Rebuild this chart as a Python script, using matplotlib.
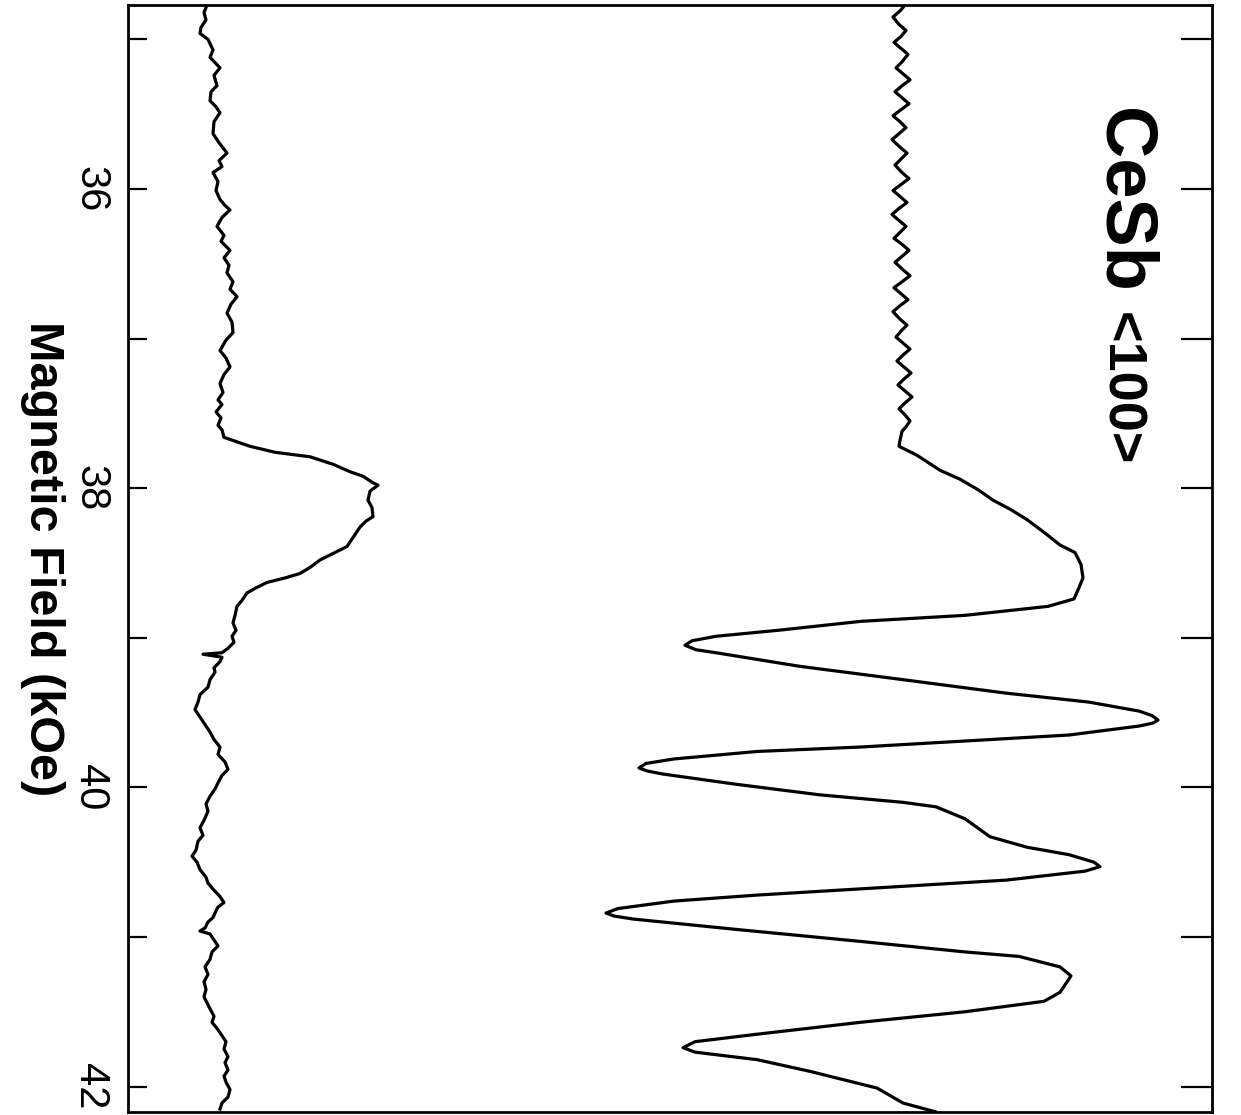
import matplotlib
matplotlib.use("Agg")
import matplotlib.pyplot as plt

# ---------------- data ----------------
# Lower trace (left, noisy baseline with a bump near 38 kOe)
left_field = [34.77, 34.82, 34.87, 34.92, 34.96, 35.00, 35.07, 35.12, 35.19, 35.24,
              35.31, 35.35, 35.41, 35.45, 35.49, 35.55, 35.63, 35.69, 35.76, 35.81,
              35.85, 35.89, 35.95, 36.01, 36.07, 36.11, 36.14, 36.19, 36.25, 36.31,
              36.35, 36.41, 36.46, 36.51, 36.56, 36.62, 36.67, 36.72, 36.77, 36.83,
              36.89, 36.96, 37.01, 37.08, 37.13, 37.19, 37.24, 37.30, 37.36, 37.41,
              37.44, 37.49, 37.53, 37.58, 37.61, 37.66,
              37.72, 37.76, 37.79, 37.84, 37.89, 37.92, 37.96, 37.98, 38.02, 38.08,
              38.13, 38.19, 38.22, 38.26, 38.31, 38.39, 38.43, 38.48, 38.53, 38.57,
              38.60, 38.63, 38.67, 38.70, 38.75, 38.79, 38.85, 38.90, 38.95, 38.99,
              39.03, 39.07, 39.10, 39.11, 39.13, 39.16, 39.20, 39.23, 39.28, 39.33,
              39.38, 39.43, 39.48, 39.53, 39.58, 39.63, 39.68, 39.73, 39.78, 39.83,
              39.88, 39.92, 39.97, 40.01, 40.06, 40.11, 40.16, 40.22, 40.27, 40.32,
              40.36, 40.42, 40.46, 40.50, 40.55, 40.60, 40.64, 40.68, 40.73, 40.77,
              40.80, 40.84, 40.87, 40.90, 40.94, 40.96, 40.98, 41.02, 41.06, 41.10,
              41.15, 41.20, 41.25, 41.30, 41.35, 41.40, 41.44, 41.48, 41.53, 41.57,
              41.62, 41.66, 41.70, 41.75, 41.80, 41.84, 41.89, 41.93, 41.97, 42.02,
              42.07, 42.11, 42.15]
left_signal = [7.9, 7.6, 7.8, 7.3, 7.2, 8.0, 8.5, 8.2, 9.2, 8.6,
               8.9, 8.3, 8.2, 8.8, 9.2, 8.6, 8.5, 9.1, 9.9, 9.1,
               9.4, 8.5, 9.0, 8.8, 9.2, 9.7, 10.2, 9.4, 8.9, 9.6,
               9.3, 10.2, 9.6, 10.1, 9.9, 10.5, 10.2, 10.9, 10.3, 9.9,
               10.4, 10.5, 9.8, 9.2, 9.8, 10.2, 9.6, 9.2, 9.5, 9.0,
               9.4, 8.8, 9.3, 9.0, 9.4, 9.6,
               12.2, 14.7, 18.2, 20.5, 22.2, 23.5, 24.4, 25.0, 24.2, 24.0,
               24.4, 24.5, 23.8, 23.2, 22.7, 21.9, 20.7, 19.2, 18.2, 17.2,
               15.7, 13.9, 12.7, 11.9, 11.4, 10.9, 10.7, 10.5, 10.8, 10.4,
               10.6, 10.0, 9.4, 7.5, 9.4, 9.2, 8.6, 8.7, 8.2, 8.0,
               7.2, 7.0, 6.7, 7.2, 7.7, 8.2, 8.6, 9.2, 9.0, 9.7,
               10.0, 9.4, 9.0, 8.7, 8.2, 7.8, 8.0, 7.6, 7.2, 7.5,
               7.0, 6.8, 6.4, 6.9, 7.2, 7.8, 8.0, 8.5, 9.2, 9.6,
               9.0, 8.7, 8.5, 8.0, 7.7, 7.2, 8.2, 8.6, 9.0, 8.4,
               8.2, 7.7, 8.0, 7.6, 7.8, 7.6, 7.9, 8.2, 8.6, 8.4,
               9.0, 9.4, 9.8, 9.6, 10.0, 9.7, 10.0, 9.6, 9.8, 10.2,
               10.0, 9.4, 9.2]

# Upper trace (right, CeSb <100> oscillations)
right_field = [34.77, 34.81, 34.85, 34.90, 34.94, 34.98, 35.02, 35.06, 35.10, 35.15,
               35.19, 35.23, 35.27, 35.31, 35.35, 35.39, 35.43, 35.47, 35.51, 35.55,
               35.59, 35.63, 35.67, 35.72, 35.76, 35.80, 35.84, 35.89, 35.93, 35.97,
               36.01, 36.05, 36.09, 36.13, 36.17, 36.21, 36.25, 36.29, 36.33, 36.37,
               36.41, 36.45, 36.49, 36.54, 36.58, 36.62, 36.66, 36.70, 36.74, 36.78,
               36.82, 36.87, 36.91, 36.95, 36.99, 37.03, 37.07, 37.11, 37.15, 37.19,
               37.23, 37.27, 37.31, 37.35, 37.39, 37.43, 37.47, 37.51, 37.55, 37.59,
               37.62, 37.65, 37.68,
               37.72, 37.78, 37.88, 37.94, 38.01, 38.08, 38.14, 38.21, 38.30, 38.38,
               38.43, 38.51, 38.60, 38.68, 38.74, 38.79, 38.85, 38.89, 38.95, 38.99,
               39.02, 39.05, 39.08, 39.10, 39.19, 39.28, 39.37, 39.43, 39.49, 39.52,
               39.55, 39.57, 39.59, 39.65, 39.69, 39.73, 39.76, 39.81, 39.84, 39.87,
               39.89, 39.91, 39.98, 40.05, 40.10, 40.13, 40.21, 40.33, 40.40, 40.45,
               40.50, 40.53, 40.56, 40.62, 40.67, 40.72, 40.76, 40.81, 40.84, 40.86,
               40.88, 40.95, 41.03, 41.10, 41.13, 41.20, 41.26, 41.37, 41.43, 41.50,
               41.57, 41.65, 41.70, 41.74, 41.77, 41.82, 41.90, 42.01, 42.11, 42.17]
right_signal = [77.7, 77.2, 76.5, 77.1, 77.8, 77.3, 76.6, 77.3, 78.0, 77.4,
                76.8, 77.5, 78.2, 77.4, 76.7, 77.4, 78.1, 77.3, 76.5, 77.2,
                77.8, 77.1, 76.4, 77.2, 77.9, 77.3, 76.7, 77.4, 78.1, 77.3,
                76.5, 77.2, 77.9, 77.1, 76.4, 77.1, 77.8, 77.2, 76.6, 77.4,
                78.1, 77.4, 76.7, 77.5, 78.2, 77.4, 76.6, 77.3, 78.0, 77.2,
                76.5, 77.2, 77.9, 77.3, 76.8, 77.5, 78.2, 77.5, 76.9, 77.6,
                78.3, 77.6, 77.0, 77.7, 78.4, 77.7, 77.1, 77.7, 78.2, 77.8,
                77.4, 77.3, 77.2,
                77.1, 78.9, 81.2, 83.2, 85.0, 86.5, 88.2, 89.9, 91.7, 93.2,
                94.7, 95.3, 95.5, 95.0, 94.6, 92.0, 83.7, 73.3, 65.0, 58.8,
                56.4, 55.7, 56.8, 58.8, 67.1, 77.5, 87.8, 96.1, 101.1, 102.4,
                103.0, 102.5, 101.1, 94.1, 83.7, 73.3, 62.9, 54.6, 51.8, 51.1,
                51.9, 53.4, 60.9, 69.2, 77.5, 80.8, 83.7, 86.2, 89.9, 94.1,
                96.6, 97.2, 95.7, 87.8, 75.4, 62.9, 54.6, 49.0, 47.8, 48.6,
                50.5, 60.9, 73.3, 83.7, 89.1, 93.2, 94.3, 93.2, 91.6, 83.7,
                73.3, 62.9, 56.7, 55.5, 56.7, 62.9, 68.3, 74.9, 77.5, 80.8]

field_ticks = [35, 36, 37, 38, 39, 40, 41, 42]
field_ticklabels = ["", "36", "", "38", "", "40", "", "42"]
field_range = (42.17, 34.77)
signal_range = (0, 108.4)

xlabel_text = "Magnetic Field (kOe)"
title_main = "CeSb"
title_dir = "<100>"

# ---------------- figure ----------------
plt.rcParams["font.family"] = ["Liberation Sans", "DejaVu Sans"]
fig = plt.figure(figsize=(12.41, 11.15), dpi=100)
ax = fig.add_axes([128 / 1241, 3 / 1115, 1084 / 1241, 1107 / 1115])

ax.plot(left_signal, left_field, color="black", lw=2.3, solid_joinstyle="round")
ax.plot(right_signal, right_field, color="black", lw=2.3, solid_joinstyle="round")

ax.set_xlim(*signal_range)
ax.set_ylim(*field_range)
ax.set_xticks([])
ax.set_yticks(field_ticks)
ax.set_yticklabels(field_ticklabels)
ax.tick_params(axis="y", direction="in", length=14, width=1.6, pad=13,
               labelsize=30, labelrotation=-90, left=True, right=False)
for lab in ax.get_yticklabels():
    lab.set_va("center")

for sp in ax.spines.values():
    sp.set_linewidth(2.0)

ax2 = ax.twinx()
ax2.set_ylim(*field_range)
ax2.set_yticks(field_ticks)
ax2.tick_params(axis="y", direction="in", length=22, width=1.6, labelright=False)
for sp in ax2.spines.values():
    sp.set_visible(False)

ax.set_ylabel(xlabel_text, rotation=-90, fontsize=35, fontweight="bold",
              ha="center", va="center")
ax.yaxis.set_label_coords(-0.079, 0.5)

fig.text(1122 / 1241, 1 - 108 / 1115, title_main, rotation=-90, fontsize=52,
         fontweight="bold", ha="center", va="top")
fig.text(1120 / 1241, 1 - 312 / 1115, title_dir, rotation=-90, fontsize=39,
         fontweight="bold", ha="center", va="top")

fig.savefig("out.png", dpi=100)
